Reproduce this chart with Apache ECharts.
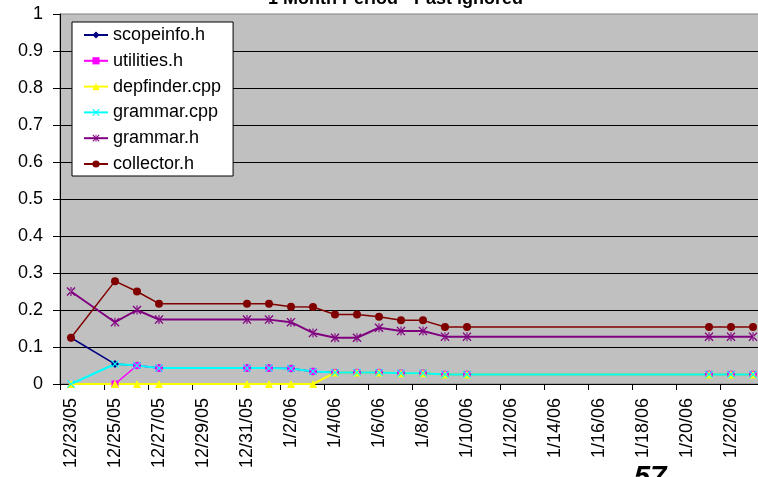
<!DOCTYPE html>
<html>
<head>
<meta charset="utf-8">
<script src="https://cdn.jsdelivr.net/npm/echarts@6/dist/echarts.min.js"></script>
<style>
  html, body { margin: 0; padding: 0; overflow: hidden; background: #fff; }
  #chart { width: 770px; height: 477px; }
</style>
</head>
<body>
<div id="chart"></div>
<script>
// x axis: one category per day, 12/23/05 .. 1/23/06
const days = [
  "12/23/05", "12/24/05", "12/25/05", "12/26/05", "12/27/05", "12/28/05", "12/29/05", "12/30/05",
  "12/31/05", "1/1/06", "1/2/06", "1/3/06", "1/4/06", "1/5/06", "1/6/06", "1/7/06",
  "1/8/06", "1/9/06", "1/10/06", "1/11/06", "1/12/06", "1/13/06", "1/14/06", "1/15/06",
  "1/16/06", "1/17/06", "1/18/06", "1/19/06", "1/20/06", "1/21/06", "1/22/06", "1/23/06"
];
const yTicks = [0, 0.1, 0.2, 0.3, 0.4, 0.5, 0.6, 0.7, 0.8, 0.9, 1];
const _ = null; // no sample that day

const scopeinfo = [0.125, _, 0.054, 0.05, 0.043, _, _, _, 0.043, 0.043, 0.042, 0.034, 0.031, 0.031, 0.031, 0.029, 0.029, 0.026, 0.026, _, _, _, _, _, _, _, _, _, _, 0.026, 0.026, 0.026];
const utilities = [_, _, 0, 0.05, 0.043, _, _, _, 0.043, 0.043, 0.042, 0.034, 0.031, 0.031, 0.031, 0.029, 0.029, 0.026, 0.026, _, _, _, _, _, _, _, _, _, _, 0.026, 0.026, 0.026];
const depfinder = [0, _, 0, 0, 0, _, _, _, 0, 0, 0, 0, 0.031, 0.031, 0.031, 0.029, 0.029, 0.026, 0.026, _, _, _, _, _, _, _, _, _, _, 0.026, 0.026, 0.026];
const grammarCpp = [0, _, 0.054, 0.05, 0.043, _, _, _, 0.043, 0.043, 0.042, 0.034, 0.031, 0.031, 0.031, 0.029, 0.029, 0.026, 0.026, _, _, _, _, _, _, _, _, _, _, 0.026, 0.026, 0.026];
const grammarH = [0.25, _, 0.167, 0.2, 0.174, _, _, _, 0.174, 0.174, 0.167, 0.138, 0.125, 0.125, 0.152, 0.143, 0.143, 0.128, 0.128, _, _, _, _, _, _, _, _, _, _, 0.128, 0.128, 0.128];
const collector = [0.125, _, 0.278, 0.25, 0.217, _, _, _, 0.217, 0.217, 0.209, 0.208, 0.188, 0.188, 0.182, 0.172, 0.172, 0.154, 0.154, _, _, _, _, _, _, _, _, _, _, 0.154, 0.154, 0.154];

const FONT = "Liberation Sans, Arial, sans-serif";
// excel style markers
const crossPath = "path://M0,1L1,0L5,4L9,0L10,1L6,5L10,9L9,10L5,6L1,10L0,9L4,5Z";
const starPath = "path://M0,1L1,0L5,4L9,0L10,1L6,5L10,9L9,10L5,6L1,10L0,9L4,5Z M4.4,10L5.6,10L5.6,0L4.4,0Z";

function lineSeries(name, data, color, symbol, size, width) {
  return {
    name: name,
    type: "line",
    data: data,
    connectNulls: true,
    showAllSymbol: true,
    symbol: symbol,
    symbolSize: size,
    color: color,
    itemStyle: { color: color, opacity: 1 },
    lineStyle: { color: color, width: width },
    emphasis: { disabled: true },
    animation: false,
  };
}

const chart = echarts.init(document.getElementById("chart"));
chart.setOption({
  animation: false,
  textStyle: { fontFamily: FONT },
  title: {
    text: "1 Month Period - Past ignored",
    left: 268,
    top: -10,
    padding: 0,
    textStyle: { fontFamily: FONT, fontSize: 18, fontWeight: "bold", color: "#000" },
  },
  legend: {
    orient: "vertical",
    left: 72,
    top: 22,
    padding: [3, 12, 2, 11],
    itemWidth: 24,
    itemHeight: 9,
    itemGap: 5.8,
    backgroundColor: "#fff",
    borderColor: "#000",
    borderWidth: 1,
    borderRadius: 0,
    textStyle: { fontFamily: FONT, fontSize: 18, color: "#000", lineHeight: 20 },
    data: ["scopeinfo.h", "utilities.h", "depfinder.cpp", "grammar.cpp", "grammar.h", "collector.h"],
  },
  grid: {
    left: 60,
    top: 14,
    width: 704,
    height: 370,
    show: true,
    backgroundColor: "#C0C0C0",
    borderColor: "#808080",
    borderWidth: 1,
  },
  xAxis: {
    type: "category",
    data: days,
    boundaryGap: true,
    axisLine: { lineStyle: { color: "#000", width: 1 } },
    axisTick: { show: true, interval: 1, length: 6, lineStyle: { color: "#000" } },
    axisLabel: {
      interval: 1,
      rotate: 90,
      margin: 14,
      fontFamily: FONT,
      fontSize: 18,
      color: "#000",
    },
    splitLine: { show: false },
  },
  yAxis: {
    type: "value",
    min: yTicks[0],
    max: yTicks[yTicks.length - 1],
    interval: 0.1,
    axisLine: { show: true, lineStyle: { color: "#000", width: 1 } },
    axisTick: { show: true, length: 7, lineStyle: { color: "#000" } },
    axisLabel: {
      margin: 17,
      fontFamily: FONT,
      fontSize: 18,
      color: "#000",
      formatter: (v) => String(Math.round(v * 10) / 10),
    },
    splitLine: { show: true, showMaxLine: false, lineStyle: { color: "#000", width: 1 } },
  },
  graphic: [
    {
      type: "text",
      left: 634,
      top: 463,
      style: { text: "57", fontFamily: FONT, fontSize: 29, fontWeight: "bold", fontStyle: "italic", fill: "#000" },
    },
  ],
  series: [
    lineSeries("scopeinfo.h", scopeinfo, "#000080", "diamond", 8, 1.5),
    lineSeries("utilities.h", utilities, "#FF00FF", "rect", 7, 1.5),
    lineSeries("depfinder.cpp", depfinder, "#FFFF00", "triangle", 8, 2),
    lineSeries("grammar.cpp", grammarCpp, "#00FFFF", crossPath, 8, 2),
    lineSeries("grammar.h", grammarH, "#800080", starPath, 9, 2),
    lineSeries("collector.h", collector, "#800000", "circle", 8, 1.5),
  ],
});
</script>
</body>
</html>
